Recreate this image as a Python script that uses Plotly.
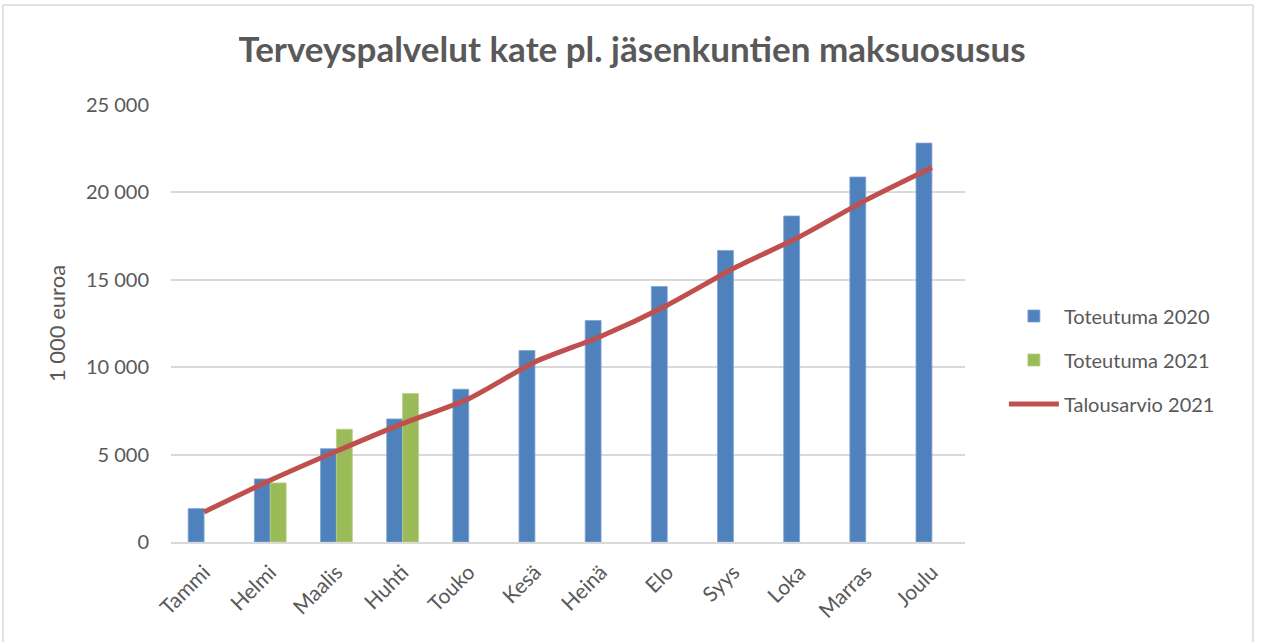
import plotly.graph_objects as go

months = ["Tammi", "Helmi", "Maalis", "Huhti", "Touko", "Kesä", "Heinä", "Elo", "Syys", "Loka", "Marras", "Joulu"]
toteutuma_2020 = [1910, 3610, 5340, 7040, 8740, 10950, 12670, 14620, 16680, 18650, 20880, 22820]
toteutuma_2021 = [None, 3380, 6450, 8490, None, None, None, None, None, None, None, None]
talousarvio_2021 = [1720, 3530, 5190, 6770, 8200, 10300, 11770, 13550, 15650, 17460, 19560, 21430]

tick_vals = [0, 5000, 10000, 15000, 20000, 25000]
tick_text = ["0", "5 000", "10 000", "15 000", "20 000", "25 000"]

fnt = "Lato, 'Open Sans', sans-serif"
grey = "#595959"

fig = go.Figure()
fig.add_trace(go.Bar(x=months, y=toteutuma_2020, name="Toteutuma 2020", legendgroup="a",
                     marker=dict(color="#4F81BD", line=dict(color="#7FA3D0", width=0.8))))
fig.add_trace(go.Bar(x=months, y=toteutuma_2021, name="Toteutuma 2021", legendgroup="b",
                     marker=dict(color="#9BBB59", line=dict(color="#B5CE85", width=0.8))))
fig.add_trace(go.Scatter(x=months, y=talousarvio_2021, name="Talousarvio 2021", mode="lines",
                         legendgroup="c",
                         line=dict(color="#C0504D", width=5, shape="spline", smoothing=0.6)))

fig.update_layout(
    width=1264, height=642,
    paper_bgcolor="white", plot_bgcolor="white",
    margin=dict(l=171, r=299, t=105, b=100),
    barmode="group", bargap=0.52, bargroupgap=0,
    title=dict(text="<b>Terveyspalvelut kate pl. jäsenkuntien maksuosusus</b>",
               x=0.5, xanchor="center", y=0.922, yanchor="middle",
               font=dict(family=fnt, size=35, color=grey)),
    font=dict(family=fnt, size=20, color=grey),
    legend=dict(x=1.049, xanchor="left", y=0.4165, yanchor="middle",
                font=dict(size=20, color=grey), tracegroupgap=15,
                itemwidth=50, bgcolor="rgba(0,0,0,0)"),
    xaxis=dict(tickangle=-45, showgrid=False, showline=True, linecolor="#D9D9D9", linewidth=1.5,
               ticks="", ticklabelstandoff=8, tickfont=dict(size=21, color=grey)),
    yaxis=dict(range=[0, 25000], tickvals=tick_vals, ticktext=tick_text, showgrid=True,
               gridcolor="#D9D9D9", gridwidth=1.5, zeroline=False, ticks="",
               ticklabelstandoff=21,
               tickfont=dict(size=20, color=grey),
               title=dict(text="1 000 euroa", font=dict(size=22, color=grey), standoff=14)),
)

fig.add_shape(type="rect", xref="paper", yref="paper",
              x0=-0.2116, x1=1.3627, y0=-0.3, y1=1.2288,
              line=dict(color="#D9D9D9", width=1.5), fillcolor="rgba(0,0,0,0)", layer="below")

fig.write_html("out.html", config={"displayModeBar": False},
               post_script="document.body.style.margin='0';")
